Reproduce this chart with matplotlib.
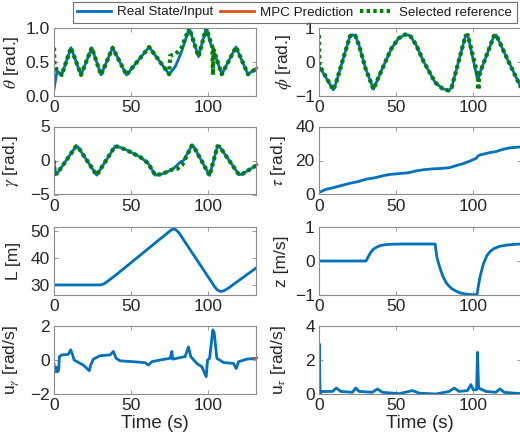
import matplotlib
matplotlib.use("Agg")
import matplotlib.pyplot as plt
from matplotlib.lines import Line2D

plt.rcParams['font.family'] = ['Liberation Sans', 'DejaVu Sans']
plt.rcParams['mathtext.fontset'] = 'stix'

BLUE = (0.0, 0.447, 0.741)
ORANGE = (0.85, 0.325, 0.098)
GREEN = (0.0, 0.5, 0.0)

# ---------------- data ----------------
theta_t = [0, 2, 5, 11, 17.5, 24.5, 30.5, 38, 47, 61.7, 74.7, 78.6, 81.8, 84, 87.7, 93.7, 98.7, 102, 103, 108.8, 118, 125.8, 131]
theta_v = [0.10, 0.37, 0.31, 0.71, 0.31, 0.71, 0.31, 0.71, 0.31, 0.72, 0.32, 0.43, 0.60, 0.74, 1.0, 0.58, 1.0, 0.74, 0.70, 0.32, 0.72, 0.32, 0.40]
theta_ref_t = [0, 0.3, 2, 5, 11, 17.5, 24.5, 30.5, 38, 47, 61.7, 74.7, 75.3, 79, 82.5, 87.7, 93.7, 98.7, 102.7, 103.1, 103.5, 108.8, 118, 125.8, 131]
theta_ref_v = [0.71, 0.45, 0.38, 0.31, 0.71, 0.31, 0.71, 0.31, 0.71, 0.31, 0.72, 0.32, 0.59, 0.62, 0.70, 1.0, 0.58, 1.0, 0.72, 0.31, 0.68, 0.32, 0.72, 0.32, 0.40]
theta_mpc_t = [130.5, 131.5]
theta_mpc_v = [0.39, 0.41]

phi_t = [0, 9.3, 11, 20, 21.5, 23.5, 25.9, 30.2, 35.3, 41, 47, 51.5, 55.8, 59, 63, 68, 75.3, 80, 84, 86, 95, 96.5, 103, 104.5, 113.5, 115, 122, 131]
phi_v = [-0.12, -0.82, -0.62, 0.75, 0.80, 0.78, 0.50, -0.19, -0.80, -0.20, 0.40, 0.69, 0.81, 0.78, 0.50, 0.0, -0.60, -0.78, -0.84, -0.75, 0.77, 0.79, -0.55, -0.30, 0.77, 0.79, 0.10, -0.75]
phi_ref_t = [0, 0.3, 9.3, 11, 20, 21.5, 23.5, 25.9, 30.2, 35.3, 41, 47, 51.5, 55.8, 59, 63, 68, 75.3, 80, 84, 86, 95, 96.5, 103, 103.4, 103.8, 104.5, 113.5, 115, 122, 131]
phi_ref_v = [0.79, -0.10, -0.82, -0.62, 0.75, 0.80, 0.78, 0.50, -0.19, -0.80, -0.20, 0.40, 0.69, 0.81, 0.78, 0.50, 0.0, -0.60, -0.78, -0.84, -0.75, 0.77, 0.79, -0.40, -0.82, -0.45, -0.30, 0.77, 0.79, 0.10, -0.75]

gamma_t = [0, 0.8, 2, 3, 14.3, 15.5, 27.7, 39.6, 42, 47, 56, 61, 65.6, 70, 77, 82, 84, 89.4, 90.5, 100.9, 106, 107.5, 120, 122, 131]
gamma_v = [-0.3, -1.6, -1.9, -1.6, 2.1, 2.0, -2.15, 2.1, 2.0, 1.55, 0.5, -0.4, -2.15, -2.0, -1.3, -0.2, 0.0, 2.2, 2.1, -2.2, 2.1, 2.0, -2.1, -2.0, -0.75]
gamma_ref_t = [0, 0.3, 2, 3, 14.3, 15.5, 27.7, 39.6, 42, 47, 56, 61, 65.6, 70, 77, 80, 83, 85, 89.4, 90.5, 100.9, 106, 107.5, 120, 122, 131]
gamma_ref_v = [0.0, -2.0, -1.9, -1.6, 2.1, 2.0, -2.15, 2.1, 2.0, 1.55, 0.5, -0.4, -2.15, -2.0, -1.3, -1.2, -0.7, 0.2, 2.2, 2.1, -2.2, 2.1, 2.0, -2.1, -2.0, -0.75]
gamma_mpc_t = [130.5, 131.5]
gamma_mpc_v = [-0.8, -0.6]

tau_t = [0, 4.5, 10, 19.6, 25, 30.5, 36, 41.3, 46, 52.2, 58, 63, 68, 73.8, 79, 84.6, 89, 93.3, 97.6, 102, 103, 104.5, 110.6, 115, 119, 123.4, 131]
tau_v = [1.2, 3.0, 4.2, 6.5, 7.5, 9.0, 9.8, 11.0, 11.8, 12.3, 12.8, 13.9, 14.6, 15.1, 15.3, 15.8, 17.0, 18.1, 19.6, 21.3, 22.6, 23.3, 24.6, 25.3, 26.5, 27.4, 28.0]

L_t = [0, 30, 32, 34, 37, 40, 76, 77.5, 79, 81, 104, 106, 108, 110, 113, 131]
L_v = [30, 30, 30.3, 31, 32.3, 33.6, 50.2, 50.6, 50.3, 49.2, 29.5, 28.1, 27.6, 27.8, 28.8, 36.2]

z_t = [0, 30.5, 32, 33.5, 35.3, 37.5, 39.6, 43, 48, 55, 75.3, 76.5, 78.6, 80.5, 82.9, 86, 89, 91.6, 95, 99, 102.4, 103.5, 104.6, 106.5, 108.9, 111, 113.3, 117, 121.9, 127, 131]
z_v = [0, 0, 0.13, 0.25, 0.35, 0.41, 0.45, 0.48, 0.495, 0.5, 0.5, 0.1, -0.23, -0.47, -0.67, -0.81, -0.89, -0.94, -0.97, -0.99, -1.0, -0.7, -0.43, -0.1, 0.16, 0.28, 0.36, 0.43, 0.47, 0.49, 0.5]

ug_t = [0, 0.65, 1.75, 2.2, 3, 3.5, 5, 9.3, 10.8, 12.1, 13, 19, 22.9, 23.8, 25.5, 29.8, 36.4, 38.5, 40.3, 42.9, 51.5, 59.1, 61.3, 63.4, 68.8, 75.3, 76.4, 77, 85, 87.2, 88.7, 92.6, 95.9, 98.7, 99.6, 100.9, 103, 103.9, 105.6, 110, 116.4, 118.2, 119.7, 125, 131]
ug_v = [-0.23, -0.7, -0.43, -0.7, -0.6, 0.2, 0.3, 0.33, 0.6, 0.3, 0.0, -0.3, -0.63, -0.3, 0.05, 0.25, 0.3, 0.5, 0.1, -0.05, -0.1, -0.16, -0.3, -0.1, 0.0, 0.1, 0.5, 0.05, 0.2, 0.77, 0.2, -0.2, -0.4, -0.98, 0.0, 0.1, 1.77, 1.6, 0.1, -0.15, -0.2, -0.5, -0.1, 0.05, 0.1]
ug_mpc_t = [130.5, 131.5]
ug_mpc_v = [0.1, 0.12]

ut_t = [0, 0.1, 0.7, 2.2, 8.7, 11.3, 14.1, 21.7, 23.8, 26, 34.6, 37.9, 41.1, 52, 60.6, 65, 75.8, 84.4, 87.7, 90.9, 96.3, 98.5, 100, 102.2, 102.8, 103.5, 108.3, 114.7, 117.3, 120.1, 131]
ut_v = [0.1, 2.96, 0.05, 0.15, 0.15, 0.35, 0.15, 0.1, 0.35, 0.15, 0.1, 0.3, 0.1, 0.02, 0.2, 0.05, 0.0, 0.15, 0.35, 0.15, 0.2, 0.55, 0.25, 0.25, 2.45, 0.35, 0.15, 0.1, 0.3, 0.1, 0.02]

legend_labels = ['Real State/Input', 'MPC Prediction', 'Selected reference']

# ---------------- figure ----------------
W, H = 520, 437
fig = plt.figure(figsize=(W / 100, H / 100), dpi=100)

left_x, right_x, ax_w = 54, 319, 202
tops = [28, 126.5, 227, 326]
ax_h = 68

def make_ax(x0, top):
    return fig.add_axes([x0 / W, 1 - (top + ax_h) / H, ax_w / W, ax_h / H])

def style(ax, ylim, yticks, ylabel, labx, xlabel=None):
    ax.set_xlim(0, 131)
    ax.set_ylim(*ylim)
    ax.set_xticks([0, 50, 100])
    ax.set_yticks(yticks)
    ax.tick_params(direction='in', top=True, right=True, length=3, width=0.6,
                   colors='0.55', labelcolor='0.15', labelsize=12.5, pad=3)
    for s in ax.spines.values():
        s.set_color('0.55')
        s.set_linewidth(0.8)
    ax.set_ylabel(ylabel, fontsize=12.5, color='0.15')
    ax.yaxis.set_label_coords(labx, 0.5)
    if xlabel:
        ax.set_xlabel(xlabel, fontsize=13.5, color='0.15', labelpad=1)

LW = 2.0
REF = dict(color=GREEN, lw=3.0, linestyle=(0, (0.8, 0.8)))

ax1 = make_ax(left_x, tops[0])
ax1.plot(theta_t, theta_v, color=BLUE, lw=LW)
ax1.plot(theta_mpc_t, theta_mpc_v, color=ORANGE, lw=LW, clip_on=False)
ax1.plot(theta_ref_t, theta_ref_v, **REF)
style(ax1, (0, 1), [0, 0.5, 1], r'$\theta$ [rad.]', -0.165)

ax2 = make_ax(right_x, tops[0])
ax2.plot(phi_t, phi_v, color=BLUE, lw=LW)
ax2.plot(phi_ref_t, phi_ref_v, **REF)
style(ax2, (-1, 1), [-1, 0, 1], r'$\phi$ [rad.]', -0.125)

ax3 = make_ax(left_x, tops[1])
ax3.plot(gamma_t, gamma_v, color=BLUE, lw=LW)
ax3.plot(gamma_mpc_t, gamma_mpc_v, color=ORANGE, lw=LW, clip_on=False)
ax3.plot(gamma_ref_t, gamma_ref_v, **REF)
style(ax3, (-5, 5), [-5, 0, 5], r'$\gamma$ [rad.]', -0.165)

ax4 = make_ax(right_x, tops[1])
ax4.plot(tau_t, tau_v, color=BLUE, lw=LW)
style(ax4, (0, 40), [0, 20, 40], r'$\tau$ [rad.]', -0.155)

ax5 = make_ax(left_x, tops[2])
ax5.plot(L_t, L_v, color=BLUE, lw=LW)
style(ax5, (26.3, 51.3), [30, 40, 50], 'L [m]', -0.165)

ax6 = make_ax(right_x, tops[2])
ax6.plot(z_t, z_v, color=BLUE, lw=LW)
style(ax6, (-1, 1), [-1, 0, 1], 'z [m/s]', -0.15)

ax7 = make_ax(left_x, tops[3])
ax7.plot(ug_t, ug_v, color=BLUE, lw=LW)
ax7.plot(ug_mpc_t, ug_mpc_v, color=ORANGE, lw=LW, clip_on=False)
style(ax7, (-2, 2), [-2, 0, 2], r'u$_\gamma$ [rad/s]', -0.165, 'Time (s)')

ax8 = make_ax(right_x, tops[3])
ax8.plot(ut_t, ut_v, color=BLUE, lw=LW)
style(ax8, (0, 4), [0, 2, 4], r'u$_\tau$ [rad/s]', -0.155, 'Time (s)')

handles = [Line2D([], [], color=BLUE, lw=LW),
           Line2D([], [], color=ORANGE, lw=LW),
           Line2D([], [], **REF)]
leg = fig.legend(handles, legend_labels, ncol=3, loc='upper right',
                 bbox_to_anchor=(517 / W, 1 - 1.5 / H), fontsize=9.6,
                 frameon=True, fancybox=False, handlelength=2.5,
                 handletextpad=0.45, columnspacing=0.55, borderpad=0.35,
                 borderaxespad=0)
leg.get_frame().set_edgecolor('0.3')
leg.get_frame().set_linewidth(0.8)
for t in leg.get_texts():
    t.set_color('0.1')

fig.savefig('out.png', dpi=100)
